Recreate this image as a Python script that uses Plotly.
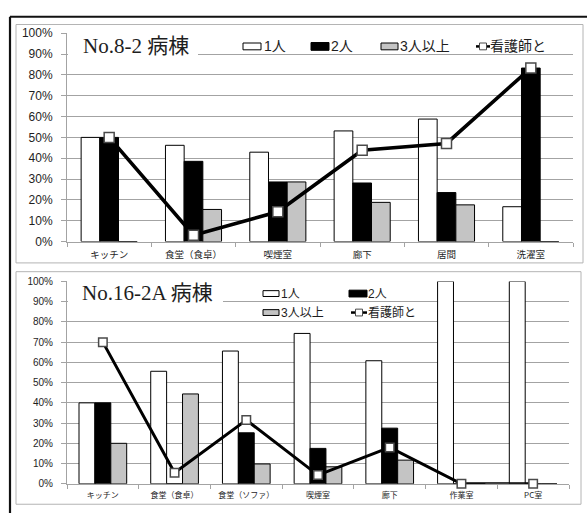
import plotly.graph_objects as go

W, H = 587, 520

# ---- ward No.8-2 : share of each room's use by group size ----
rooms_8 = ["キッチン", "食堂（食卓）", "喫煙室", "廊下", "居間", "洗濯室"]
solo_8 = [0.50, 0.462, 0.429, 0.531, 0.588, 0.167]
pair_8 = [0.50, 0.385, 0.286, 0.281, 0.235, 0.833]
group_8 = [0.0, 0.154, 0.286, 0.188, 0.176, 0.0]
nurse_8 = [0.50, 0.03, 0.143, 0.438, 0.471, 0.833]

# ---- ward No.16-2A ----
rooms_16 = ["キッチン", "食堂（食卓）", "食堂（ソファ）", "喫煙室", "廊下", "作業室", "PC室"]
solo_16 = [0.40, 0.556, 0.656, 0.743, 0.608, 1.0, 1.0]
pair_16 = [0.40, 0.0, 0.252, 0.175, 0.275, 0.0, 0.0]
group_16 = [0.20, 0.444, 0.098, 0.084, 0.117, 0.0, 0.0]
nurse_16 = [0.70, 0.055, 0.315, 0.043, 0.18, 0.0, 0.0]

series_names = ["1人", "2人", "3人以上", "看護師と"]
bar_fills = ["#ffffff", "#000000", "#c4c4c4"]
ward_titles = ["No.8-2 病棟", "No.16-2A 病棟"]

GRID = "#a3a3a3"
TEXT = "#1e1e1e"
SANS = "Liberation Sans, Noto Sans CJK JP, sans-serif"
CJK = "Noto Sans CJK JP, sans-serif"
SERIF = "Liberation Serif, Noto Sans CJK JP, serif"


def fx(x):
    return x / W


def fy(y):
    return 1 - y / H


fig = go.Figure()

panels = [
    dict(rooms=rooms_8, bars=[solo_8, pair_8, group_8], nurse=nurse_8,
         xa="x", ya="y", line_w=3.6, mk=10, mk_lw=1.5),
    dict(rooms=rooms_16, bars=[solo_16, pair_16, group_16], nurse=nurse_16,
         xa="x2", ya="y2", line_w=3.0, mk=8.5, mk_lw=1.5),
]

for p in panels:
    for name, vals, fill in zip(series_names[:3], p["bars"], bar_fills):
        fig.add_trace(go.Bar(
            x=p["rooms"], y=vals, name=name, xaxis=p["xa"], yaxis=p["ya"],
            marker=dict(color=fill, line=dict(color="#000000", width=1)),
            showlegend=False,
        ))
    fig.add_trace(go.Scatter(
        x=p["rooms"], y=p["nurse"], name=series_names[3], mode="lines+markers",
        xaxis=p["xa"], yaxis=p["ya"],
        line=dict(color="#000000", width=p["line_w"]),
        marker=dict(symbol="square", size=p["mk"], color="#ffffff",
                    line=dict(color="#4a4a4a", width=p["mk_lw"])),
        cliponaxis=False, showlegend=False,
    ))


def yaxis_style(domain, anchor, font_size, standoff):
    return dict(
        domain=domain, anchor=anchor, range=[0, 1], dtick=0.1, tick0=0,
        tickformat=".0%", showgrid=True, gridcolor=GRID, gridwidth=1,
        zeroline=False, showline=True, linecolor=GRID, linewidth=1,
        ticks="outside", ticklen=5, tickcolor=GRID, tickwidth=1,
        ticklabelstandoff=standoff,
        tickfont=dict(family=SANS, size=font_size, color=TEXT),
        fixedrange=True,
    )


def xaxis_style(domain, anchor, font_size, standoff):
    return dict(
        domain=domain, anchor=anchor, type="category", showgrid=False,
        zeroline=False, showline=True, linecolor=GRID, linewidth=1,
        ticks="outside", ticklen=4, tickcolor=GRID, tickwidth=1,
        tickson="boundaries", ticklabelstandoff=standoff,
        tickfont=dict(family=CJK, size=font_size, color=TEXT),
        layer="below traces", fixedrange=True,
    )


shapes = []
annotations = []

# outer frame (top and left edges visible)
shapes.append(dict(type="line", xref="paper", yref="paper", x0=fx(10), x1=fx(587),
                   y0=fy(10), y1=fy(10), line=dict(color="#111111", width=2.2)))
shapes.append(dict(type="line", xref="paper", yref="paper", x0=fx(10), x1=fx(10),
                   y0=fy(10), y1=fy(520), line=dict(color="#111111", width=2.2)))

# panel frames
for (x0, y0, x1, y1) in [(16, 18, 583, 263), (16, 272, 581, 511)]:
    shapes.append(dict(type="rect", xref="paper", yref="paper",
                       x0=fx(x0), x1=fx(x1), y0=fy(y0), y1=fy(y1),
                       line=dict(color="#b4b4b4", width=1), layer="below"))

# title boxes
title_boxes = [dict(box=(68, 29, 198, 52), tx=81, ty=40, size=21),
               dict(box=(68, 284, 223, 306), tx=80, ty=294, size=21)]
for tb, title in zip(title_boxes, ward_titles):
    bx0, by0, bx1, by1 = tb["box"]
    shapes.append(dict(type="rect", xref="paper", yref="paper",
                       x0=fx(bx0), x1=fx(bx1), y0=fy(by0), y1=fy(by1),
                       fillcolor="#ffffff", line=dict(width=0), layer="above"))
    annotations.append(dict(text=title, xref="paper", yref="paper",
                            x=fx(tb["tx"]), y=fy(tb["ty"]), xanchor="left",
                            yanchor="middle", showarrow=False,
                            font=dict(family=SERIF, size=tb["size"], color=TEXT)))


def legend_swatch(x0, x1, yc, h, fill):
    shapes.append(dict(type="rect", xref="paper", yref="paper",
                       x0=fx(x0), x1=fx(x1), y0=fy(yc + h / 2), y1=fy(yc - h / 2),
                       fillcolor=fill, line=dict(color="#000000", width=1),
                       layer="above"))


def legend_line(x0, x1, yc, sq):
    xm = (x0 + x1) / 2
    shapes.append(dict(type="line", xref="paper", yref="paper",
                       x0=fx(x0), x1=fx(x1), y0=fy(yc), y1=fy(yc),
                       line=dict(color="#000000", width=2.5), layer="above"))
    shapes.append(dict(type="rect", xref="paper", yref="paper",
                       x0=fx(xm - sq / 2), x1=fx(xm + sq / 2),
                       y0=fy(yc + sq / 2), y1=fy(yc - sq / 2),
                       fillcolor="#ffffff", line=dict(color="#4a4a4a", width=1),
                       layer="above"))


def legend_text(text, x, yc, size):
    annotations.append(dict(text=text, xref="paper", yref="paper", x=fx(x),
                            y=fy(yc), xanchor="left", yanchor="middle",
                            showarrow=False,
                            font=dict(family=SANS, size=size, color=TEXT)))


# legend of ward No.8-2 (single row)
yl = 40.5
legend_swatch(243, 261, yl, 7, bar_fills[0])
legend_text(series_names[0], 262, yl, 14)
legend_swatch(311, 329, yl, 8, bar_fills[1])
legend_text(series_names[1], 329, yl, 14)
legend_swatch(381, 398, yl, 7, bar_fills[2])
legend_text(series_names[2], 398, yl, 14)
legend_line(476, 490, yl, 7)
legend_text(series_names[3], 488, yl, 14)

# legend of ward No.16-2A (two rows)
r1, r2 = 294.5, 314
legend_swatch(263, 279, r1, 6, bar_fills[0])
legend_text(series_names[0], 279, r1, 12)
legend_swatch(349, 367, r1, 7, bar_fills[1])
legend_text(series_names[1], 366, r1, 12)
legend_swatch(263, 279, r2, 6, bar_fills[2])
legend_text(series_names[2], 279, r2, 12)
legend_line(351, 367, r2, 7)
legend_text(series_names[3], 366, r2, 12)

fig.update_layout(
    width=W, height=H, margin=dict(l=0, r=0, t=0, b=0, pad=0),
    paper_bgcolor="#ffffff", plot_bgcolor="#ffffff",
    barmode="group", bargap=0.335, bargroupgap=0,
    showlegend=False,
    xaxis=xaxis_style([fx(67), fx(573)], "y", 9.5, 4),
    yaxis=yaxis_style([fy(241), fy(27)], "x", 12, 6),
    xaxis2=xaxis_style([fx(67), fx(569)], "y2", 8, 4),
    yaxis2=yaxis_style([fy(490), fy(282)], "x2", 10, 6),
    shapes=shapes,
    annotations=annotations,
)

fig.write_html("out.html", config={"displayModeBar": False})
